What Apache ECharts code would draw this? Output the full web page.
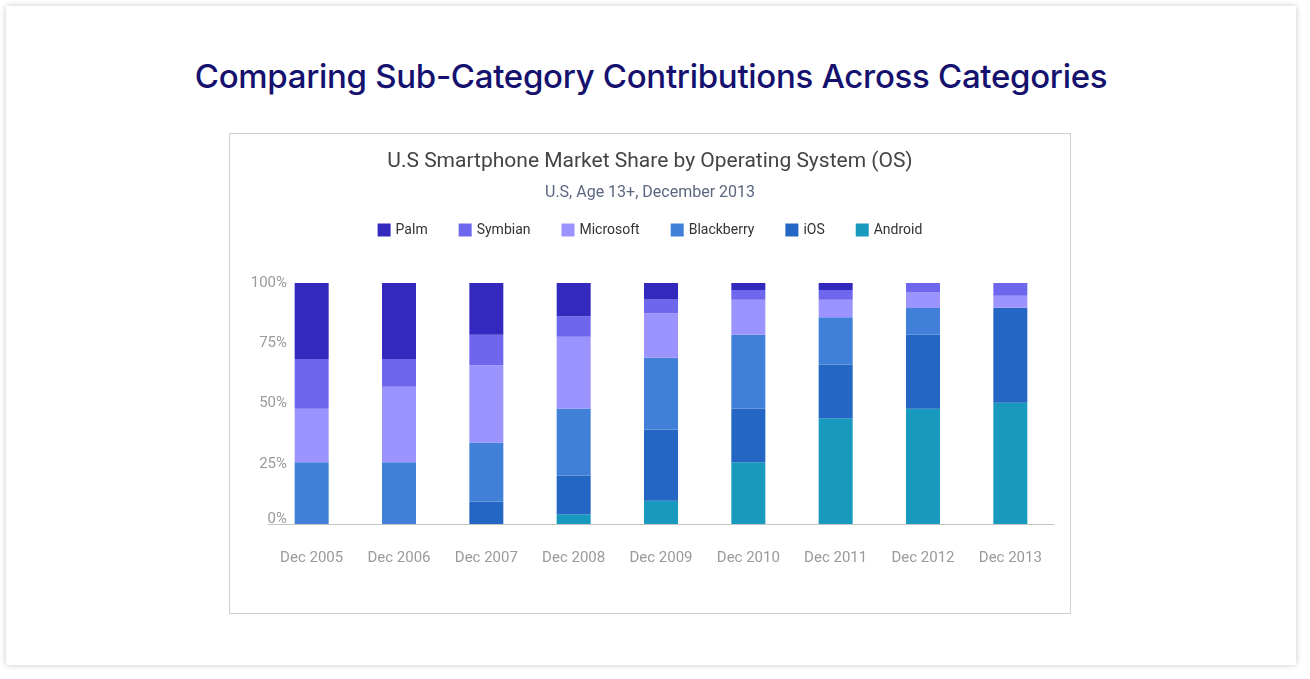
<!DOCTYPE html>
<html>
<head>
<meta charset="utf-8">
<script src="https://cdn.jsdelivr.net/npm/echarts@6/dist/echarts.min.js"></script>
<style>
  html, body { margin: 0; padding: 0; background: #fff; }
  .card {
    position: absolute; left: 6px; top: 6px; width: 1290px; height: 659px;
    background: #fff; box-shadow: 0 0 6px rgba(0, 0, 0, 0.22);
  }
  .heading {
    position: absolute; left: 0; top: 56px; width: 1302px; text-align: center;
    font-family: Inter, Roboto, sans-serif; font-weight: 500; font-size: 33px;
    color: #15116e; letter-spacing: -0.3px;
  }
  #chart {
    position: absolute; left: 229px; top: 133px; width: 840px; height: 479px;
    border: 1px solid #cfcfcf;
  }
</style>
</head>
<body>
<div class="card"></div>
<div class="heading">Comparing Sub-Category Contributions Across Categories</div>
<div id="chart"></div>
<script>
// categories and values (% share)
var years = ['Dec 2005', 'Dec 2006', 'Dec 2007', 'Dec 2008', 'Dec 2009', 'Dec 2010', 'Dec 2011', 'Dec 2012', 'Dec 2013']
var palm = [31.5, 31.5, 21.5, 13.8, 6.8, 2.9, 2.9, 0, 0]
var symbian = [20.7, 11.6, 12.6, 8.5, 5.7, 4.0, 4.0, 3.9, 5.3]
var microsoft = [22.2, 31.3, 32.1, 29.8, 18.5, 14.6, 7.3, 6.5, 5.0]
var blackberry = [25.6, 25.6, 24.5, 27.8, 29.8, 30.6, 19.6, 11.1, 0]
var ios = [0, 0, 9.3, 16.1, 29.6, 22.3, 22.3, 30.7, 39.4]
var android = [0, 0, 0, 4.0, 9.6, 25.6, 43.9, 47.8, 50.3]
var yTicks = [0, 25, 50, 75, 100]

var colors = {
  Palm: '#3429bf',
  Symbian: '#6e67ee',
  Microsoft: '#9b94ff',
  Blackberry: '#4080d8',
  iOS: '#2466c4',
  Android: '#1899be'
}

// stacked bottom to top
var stackOrder = [
  ['Android', android],
  ['iOS', ios],
  ['Blackberry', blackberry],
  ['Microsoft', microsoft],
  ['Symbian', symbian],
  ['Palm', palm]
]

var chart = echarts.init(document.getElementById('chart'))

chart.setOption({
  animation: false,
  textStyle: { fontFamily: 'Roboto' },
  title: [
    {
      text: 'U.S Smartphone Market Share by Operating System (OS)',
      left: 'center',
      top: 12,
      textStyle: { fontSize: 21, fontWeight: 'normal', color: '#444', fontFamily: 'Roboto' }
    },
    {
      text: 'U.S, Age 13+, December 2013',
      left: 'center',
      top: 46,
      textStyle: { fontSize: 16, fontWeight: 'normal', color: '#5b6680', fontFamily: 'Roboto' }
    }
  ],
  legend: {
    data: ['Palm', 'Symbian', 'Microsoft', 'Blackberry', 'iOS', 'Android'],
    top: 84,
    left: 'center',
    icon: 'rect',
    itemWidth: 13,
    itemHeight: 13,
    itemGap: 31,
    textStyle: { fontSize: 14, color: '#333', fontFamily: 'Roboto' }
  },
  grid: {
    left: 38,
    right: 16,
    top: 149,
    bottom: 89,
    containLabel: false
  },
  xAxis: {
    type: 'category',
    data: years,
    axisLine: { lineStyle: { color: '#c4c4c4' } },
    axisTick: { show: false },
    axisLabel: { color: '#9a9a9a', fontSize: 15, margin: 27 }
  },
  yAxis: {
    type: 'value',
    min: yTicks[0],
    max: yTicks[yTicks.length - 1],
    interval: 25,
    splitLine: { show: false },
    axisLine: { show: false },
    axisTick: { show: false },
    axisLabel: {
      color: '#9a9a9a',
      fontSize: 15,
      margin: -19,
      formatter: function (v) {
        return v === 0 ? '{z|0%}' : v + '%'
      },
      rich: { z: { fontSize: 15, color: '#9a9a9a', padding: [0, 0, 10, 0] } }
    }
  },
  series: stackOrder.map(function (s) {
    return {
      name: s[0],
      type: 'bar',
      stack: 'share',
      barWidth: 34,
      data: s[1],
      itemStyle: { color: colors[s[0]] }
    }
  })
})
</script>
</body>
</html>
